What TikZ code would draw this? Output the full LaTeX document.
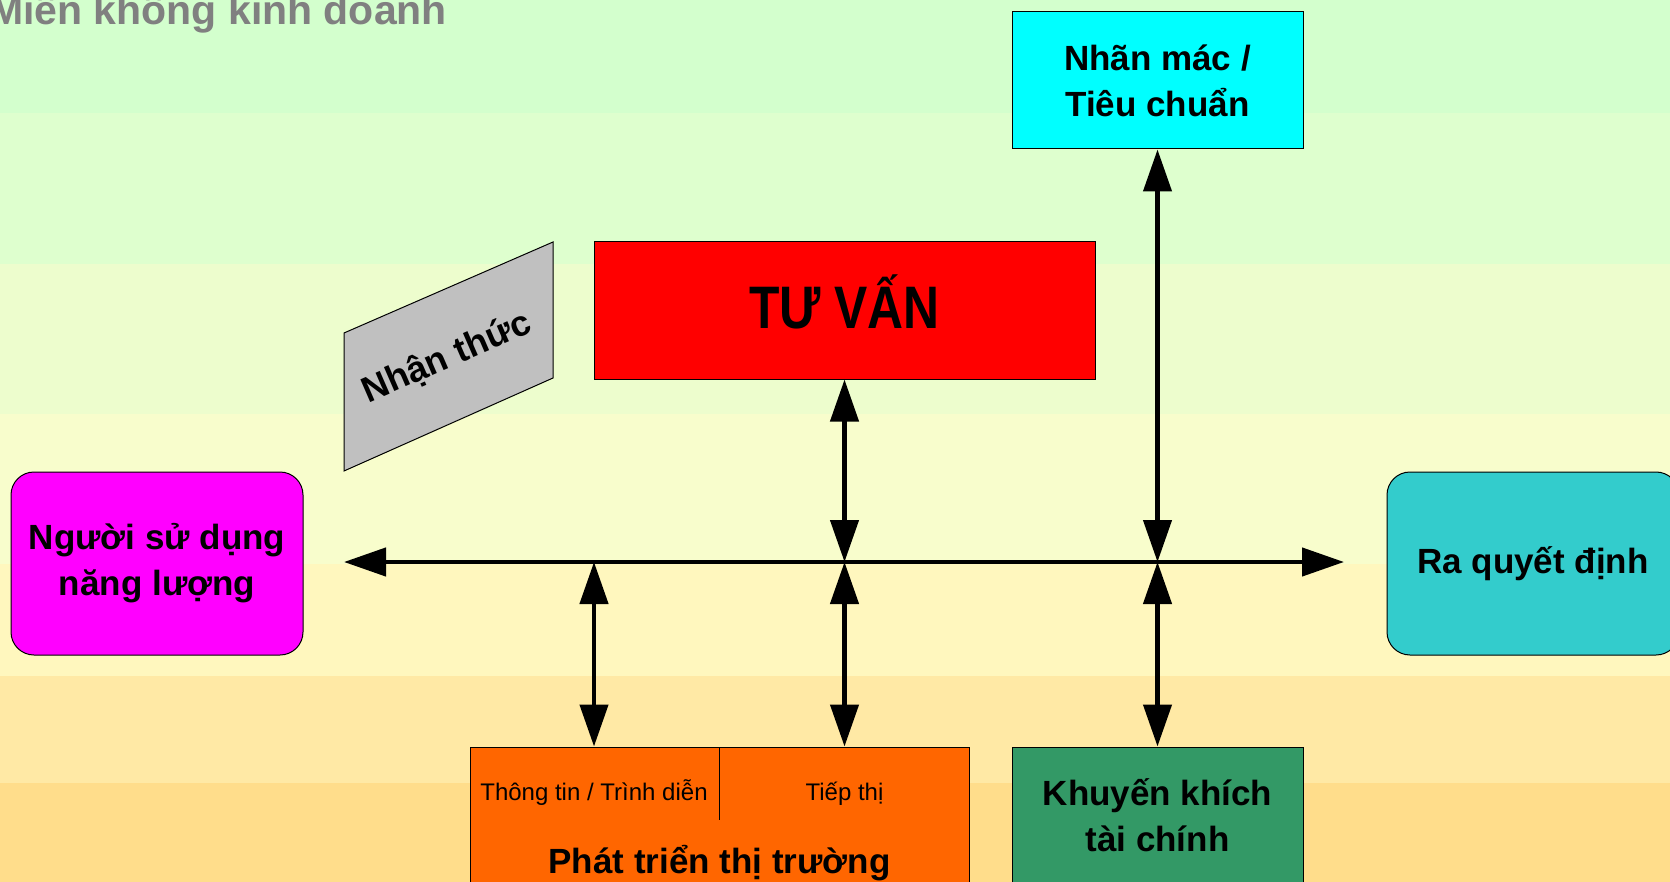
\documentclass[tikz,border=0pt]{standalone}
\usepackage{fontspec}
\setmainfont{Liberation Sans}
\usepackage{tikz}
\usetikzlibrary{arrows.meta}

\definecolor{bandA}{HTML}{D3FFCD}
\definecolor{bandB}{HTML}{DEFFCE}
\definecolor{bandC}{HTML}{EDFDCD}
\definecolor{bandD}{HTML}{F8FDCC}
\definecolor{bandE}{HTML}{FFF7BE}
\definecolor{bandF}{HTML}{FFE9A5}
\definecolor{bandG}{HTML}{FFDD8B}
\definecolor{cyanbox}{HTML}{00FFFF}
\definecolor{redbox}{HTML}{FF0000}
\definecolor{pinkbox}{HTML}{FF00FF}
\definecolor{greybox}{HTML}{C0C0C0}
\definecolor{tealbox}{HTML}{33CCCC}
\definecolor{greenbox}{HTML}{339966}
\definecolor{orangebox}{HTML}{FF6600}
\definecolor{greytext}{HTML}{808080}

\tikzset{
    box/.style={draw=black, line width=0.5pt, align=center, inner sep=0pt,
        font=\bfseries\fontsize{17.5}{23}\selectfont},
    roundbox/.style={box, rounded corners=11.5pt},
    twoway/.style={black, line width=2.2pt,
        {Triangle[length=21pt,width=14pt]}-{Triangle[length=21pt,width=14pt]}}}

\begin{document}
\begin{tikzpicture}[x=0.5pt, y=-0.5pt]
                
                    \useasboundingbox (0,0) rectangle (1670,882);
                    \foreach \ytop/\ybot/\col in {0/113/bandA, 113/264/bandB, 264/414/bandC,
                        414/564/bandD, 564/676/bandE, 676/783/bandF, 783/882/bandG}
                        \fill[\col] (0,\ytop) rectangle (1670,\ybot);
                
                    \node[anchor=base west, text=greytext, font=\bfseries\fontsize{20.5}{24}\selectfont] (zone) at (-18,25) {Miền không kinh doanh};
                
                    \node[box, fill=cyanbox, minimum width=145.5pt, minimum height=68.5pt] (label) at (1157.5,80.5) {Nhãn mác /\\Tiêu chuẩn};
                    \node[box, fill=redbox, minimum width=250.5pt, minimum height=68.5pt, font=\bfseries\fontsize{30}{34}\selectfont] (advice) at (844.5,310.5) {\raisebox{4.5pt}[\height][\depth]{\scalebox{0.83}[1]{TƯ VẤN}}};
                    \node[roundbox, fill=pinkbox, minimum width=146pt, minimum height=91.5pt] (user) at (157,563.5) {Người sử dụng\\năng lượng};
                    \node[roundbox, fill=tealbox, minimum width=146pt, minimum height=91.5pt] (decide) at (1533,563.5) {Ra quyết định};
                    \node[box, fill=greenbox, minimum width=145.5pt, minimum height=68pt] (finance) at (1157.5,815) {Khuyến khích\\tài chính};
                    \node[box, fill=orangebox, minimum width=249.5pt, minimum height=80pt] (market) at (719.5,827) {};
                
                    % nhan thuc panel
                    \draw[line width=0.5pt, fill=greybox] (344,333) -- (553,242) -- (553,378) -- (344,471) -- cycle;
                    \node[rotate=23.5, font=\bfseries\fontsize{18}{22}\selectfont] (aware) at (447,358) {Nhận thức};
                
                    % market development
                    \draw[line width=0.5pt] (719,747) -- (719,820);
                    \node[anchor=base, font=\fontsize{12}{14}\selectfont] (info) at (594,800) {Thông tin / Trình diễn};
                    \node[anchor=base, font=\fontsize{12}{14}\selectfont] (promo) at (844.5,800) {Tiếp thị};
                    \node[anchor=base, font=\bfseries\fontsize{17.5}{22}\selectfont] (markettext) at (719.5,873) {Phát triển thị trường};
                
                    \coordinate (left) at (344,562);
                    \coordinate (right) at (1344,562);
                    \coordinate (j1) at (594,562);
                    \coordinate (j2) at (844.5,562);
                    \coordinate (j3) at (1157.5,562);
                
                    \draw[twoway] (left) -- (right);
                    \draw[twoway] (advice.south) -- (j2);
                    \draw[twoway] (label.south) -- (j3);
                    \draw[twoway] (j1) -- (j1 |- market.north);
                    \draw[twoway] (j2) -- (j2 |- market.north);
                    \draw[twoway] (j3) -- (finance.north);
            
                \end{tikzpicture}
\end{document}
